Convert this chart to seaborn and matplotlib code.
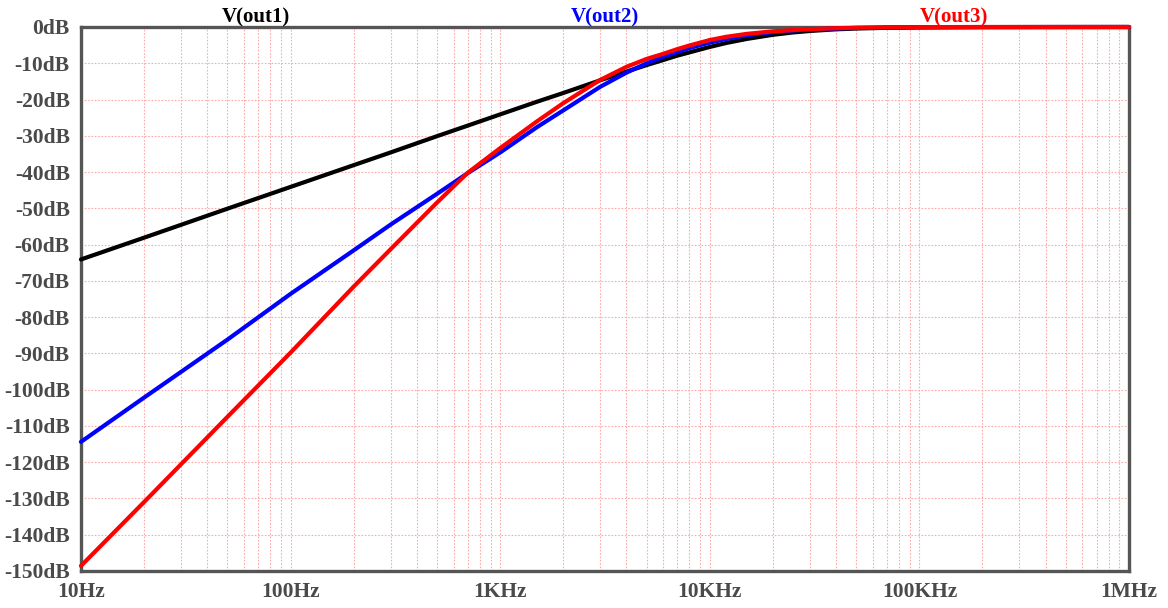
import numpy as np
import pandas as pd
import seaborn as sns
import matplotlib.pyplot as plt
from matplotlib.ticker import FixedLocator, NullFormatter

# Frequency points (Hz) and magnitude readings (dB) for each node
freq = [10, 20, 50, 100, 200, 300, 500, 700, 1000, 1500, 2000, 3000, 4000, 5000,
        6000, 7000, 8000, 10000, 12000, 15000, 20000, 25000, 30000, 40000,
        50000, 70000, 100000, 200000, 500000, 1000000]
out1 = [-64.1, -58.1, -50.1, -44.1, -38.1, -34.6, -30.1, -27.2, -24.1, -20.6,
        -18.2, -14.7, -12.3, -10.5, -9.1, -7.9, -7.0, -5.5, -4.4, -3.3,
        -2.15, -1.5, -1.1, -0.64, -0.42, -0.22, -0.11, -0.03, -0.01, 0.0]
out2 = [-114.4, -102.2, -86.2, -73.6, -61.6, -54.5, -46.0, -40.3, -34.6, -27.6,
        -23.0, -16.5, -12.6, -10.0, -8.2, -6.9, -5.8, -4.3, -3.3, -2.3,
        -1.4, -0.95, -0.7, -0.4, -0.26, -0.13, -0.06, -0.02, 0.0, 0.0]
out3 = [-148.6, -131.0, -107.5, -89.8, -71.6, -61.3, -48.4, -40.2, -33.4, -26.0,
        -21.0, -14.6, -11.0, -8.8, -7.4, -6.1, -5.1, -3.6, -2.7, -1.9,
        -1.2, -0.85, -0.6, -0.33, -0.2, -0.1, -0.04, 0.0, 0.0, 0.0]

series_names = ['V(out1)', 'V(out2)', 'V(out3)']
series_colors = ['#000000', '#0000ff', '#ff0000']

x_ticks = [10, 100, 1000, 10000, 100000, 1000000]
x_labels = ['10Hz', '100Hz', '1KHz', '10KHz', '100KHz', '1MHz']
y_ticks = list(range(0, -160, -10))
y_labels = [f'{v}dB' for v in y_ticks]

df = pd.DataFrame({
    'freq': freq * 3,
    'mag': out1 + out2 + out3,
    'node': [n for n in series_names for _ in freq],
})

sns.set_style('white')
plt.rcParams['font.family'] = ['Liberation Serif', 'DejaVu Serif']

fig, ax = plt.subplots(figsize=(11.68, 6.08), dpi=100)
fig.subplots_adjust(left=0.0693, right=0.9666, top=0.9556, bottom=0.0609)

sns.lineplot(data=df, x='freq', y='mag', hue='node', palette=series_colors,
             hue_order=series_names, linewidth=3.0, legend=False, ax=ax,
             zorder=4, clip_on=False)

ax.set_xscale('log')
ax.set_xlim(10, 1e6)
ax.set_ylim(-150, 0)

# grid: dotted pink lines at every decade sub-division and each 10dB
minor = [m * 10 ** d for d in range(1, 6) for m in range(2, 10)]
ax.xaxis.set_major_locator(FixedLocator(x_ticks))
ax.xaxis.set_minor_locator(FixedLocator(minor))
ax.xaxis.set_minor_formatter(NullFormatter())
ax.set_xticklabels(x_labels)
ax.set_yticks(y_ticks)
ax.set_yticklabels(y_labels)
ax.grid(which='both', axis='x', color='#ffaaaa', linestyle=(0, (1.5, 1.5)), linewidth=0.8)
ax.grid(which='major', axis='y', color='#ffaaaa', linestyle=(0, (1.5, 1.5)), linewidth=0.8)

gray = '#555555'
for s in ax.spines.values():
    s.set_color(gray)
    s.set_linewidth(2.4)
ax.tick_params(axis='both', which='major', direction='out', length=7, width=2.2,
               color=gray, labelcolor='#4a4a4a', labelsize=15.5, pad=1)
ax.tick_params(axis='x', which='minor', direction='out', length=5, width=2.2, color=gray)
ax.tick_params(axis='y', which='minor', left=False)
for lab in ax.get_xticklabels() + ax.get_yticklabels():
    lab.set_fontweight('bold')

ax.set_xlabel('')
ax.set_ylabel('')

# trace names along the top
for i, (name, col) in enumerate(zip(series_names, series_colors)):
    ax.text((2 * i + 1) / 6, 1.009, name, transform=ax.transAxes, ha='center',
            va='baseline', color=col, fontsize=15, fontweight='bold')

plt.savefig('out.png', dpi=100)
